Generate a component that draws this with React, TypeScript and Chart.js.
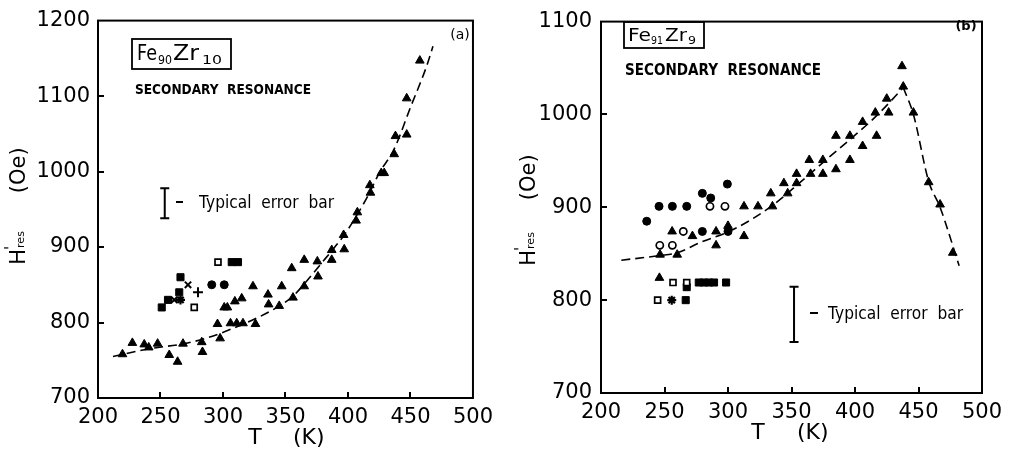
import React, { useEffect, useRef } from "react";
import { Chart, registerables } from "chart.js";

Chart.register(...registerables);

// ---------- shared tick values ----------
const xTickValues = [200, 250, 300, 350, 400, 450, 500];
const aYTickValues = [700, 800, 900, 1000, 1100, 1200];
const bYTickValues = [700, 800, 900, 1000, 1100];

// ---------- panel (a): Fe90Zr10 ----------
const aTriT = [219.6, 227.5, 237, 240.6, 247.7, 257, 263.7, 268, 283, 283.6, 295.6, 297.7, 301, 303.5, 306, 309.5, 311, 315, 316, 324, 326, 336, 336.5, 345, 347, 355, 356, 365, 365, 375.5, 376, 387, 387, 396.5, 397, 406.5, 407.5, 417.5, 418, 426.6, 429, 437, 438, 447, 447, 457.5];
const aTriH = [758, 773, 771, 767, 772, 757, 748, 772, 774, 761, 798, 779, 820, 820, 799, 828, 799, 832, 799, 848, 798, 837, 824, 822, 848, 872, 833, 883, 848, 881, 861, 896, 883, 916, 897, 935, 946, 982, 972, 998, 998, 1023, 1047, 1049, 1097, 1147];
const aSqFillT = [251, 256, 265, 266, 307, 312];
const aSqFillH = [820, 830, 840, 860, 880, 880];
const aSqOpenT = [277, 296];
const aSqOpenH = [820, 880];
const aCircFillT = [291, 301];
const aCircFillH = [850, 850];
const aCrossT = [261, 272];
const aCrossH = [830, 850];
const aPlusT = [280];
const aPlusH = [840];
const aStarT = [266];
const aStarH = [830];
const aCurveT = [212, 240, 269, 288, 319, 340, 356, 369, 380, 386, 397, 407, 416, 425, 437, 450, 463, 468];
const aCurveH = [755, 765, 772, 780, 800, 817, 835, 859, 881, 893, 916, 942, 968, 998, 1030, 1085, 1140, 1166];
const aErrorBar = [253.4, 938, 978]; // T, low, high

// ---------- panel (b): Fe91Zr9 ----------
const bTriT = [246, 246.5, 256, 260, 272, 290.6, 290.6, 300, 312.6, 312.6, 323.6, 333.7, 335, 344, 347, 354, 354, 364, 365, 374.7, 374.7, 385, 385, 396, 396, 406, 406, 416, 417, 425, 426.5, 437, 438, 446, 458, 467, 477];
const bTriH = [824, 849, 874, 849, 869, 874, 859, 880, 901, 869, 901, 915, 901, 926, 915, 936, 926, 951, 936, 951, 936, 977, 941, 977, 951, 992, 966, 1002, 977, 1017, 1002, 1052, 1030, 1002, 927, 903, 851];
const bCircFillT = [236, 245.7, 256.2, 267.5, 279.8, 286.4, 299.5, 279.8, 300];
const bCircFillH = [885, 901, 901, 901, 915, 910, 925, 874, 874];
const bCircOpenT = [285.8, 297.6, 264.8, 246.3, 256.2];
const bCircOpenH = [901, 901, 874, 859, 859];
const bSqOpenT = [256.7, 267.5, 244.6];
const bSqOpenH = [819, 819, 800];
const bSqFillT = [277, 281, 285, 289, 298.5, 267.5, 266.7];
const bSqFillH = [819, 819, 819, 819, 819, 814, 800];
const bStarT = [255.7];
const bStarH = [800];
const bCurveUpT = [216, 246, 260, 278, 304, 334, 357, 378, 396, 415, 430, 438];
const bCurveUpH = [843, 848, 851, 862, 876, 901, 927, 952, 973, 996, 1017, 1029];
const bCurveDownT = [438, 446, 458, 467, 482];
const bCurveDownH = [1029, 1000, 928, 900, 837];
const bErrorBar = [352, 755, 814.5];

// ---------- helpers ----------
const FONT = '"DejaVu Sans", sans-serif';
const pts = (t: number[], h: number[]) => t.map((x, i) => ({ x, y: h[i] }));

const tri = (t: number[], h: number[]) => ({ data: pts(t, h), pointStyle: "triangle", pointRadius: 5, backgroundColor: "#000", borderColor: "#000", borderWidth: 1, showLine: false });
const circF = (t: number[], h: number[]) => ({ data: pts(t, h), pointStyle: "circle", pointRadius: 4, backgroundColor: "#000", borderColor: "#000", borderWidth: 1, showLine: false });
const circO = (t: number[], h: number[]) => ({ data: pts(t, h), pointStyle: "circle", pointRadius: 3.6, backgroundColor: "#fff", borderColor: "#000", borderWidth: 1.7, showLine: false });
const sqF = (t: number[], h: number[]) => ({ data: pts(t, h), pointStyle: "rect", pointRadius: 5, backgroundColor: "#000", borderColor: "#000", borderWidth: 1, showLine: false });
const sqO = (t: number[], h: number[]) => ({ data: pts(t, h), pointStyle: "rect", pointRadius: 4.2, backgroundColor: "#fff", borderColor: "#000", borderWidth: 1.7, showLine: false });
const crossR = (t: number[], h: number[]) => ({ data: pts(t, h), pointStyle: "crossRot", pointRadius: 4.5, backgroundColor: "#000", borderColor: "#000", borderWidth: 2, showLine: false });
const plus = (t: number[], h: number[]) => ({ data: pts(t, h), pointStyle: "cross", pointRadius: 5, backgroundColor: "#000", borderColor: "#000", borderWidth: 2, showLine: false });
const star = (t: number[], h: number[]) => ({ data: pts(t, h), pointStyle: "star", pointRadius: 4.5, backgroundColor: "#000", borderColor: "#000", borderWidth: 2.2, showLine: false });
const curve = (t: number[], h: number[]) => ({ data: pts(t, h), showLine: true, borderDash: [9, 5], borderWidth: 1.6, borderColor: "#000", backgroundColor: "#000", pointRadius: 0, cubicInterpolationMode: "monotone", fill: false });

function fitText(ctx: CanvasRenderingContext2D, text: string, x: number, y: number, w: number, font: string) {
  ctx.save();
  ctx.font = font;
  ctx.textAlign = "left";
  ctx.textBaseline = "alphabetic";
  const m = ctx.measureText(text).width;
  ctx.translate(x, y);
  ctx.scale(w / m, 1);
  ctx.fillText(text, 0, 0);
  ctx.restore();
}

function drawYTitle(ctx: CanvasRenderingContext2D, cx: number, cy: number, gap: number) {
  ctx.save();
  ctx.translate(cx, cy);
  ctx.rotate(-Math.PI / 2);
  ctx.fillStyle = "#000";
  ctx.textAlign = "left";
  ctx.textBaseline = "alphabetic";
  const big = `21px ${FONT}`;
  const small = `11px ${FONT}`;
  ctx.font = big;
  const wH = ctx.measureText("H").width;
  const wOe = ctx.measureText("(Oe)").width;
  ctx.font = small;
  const wRes = ctx.measureText("res").width;
  const total = wH + 1 + wRes + gap + wOe;
  let x = -total / 2;
  const base = 8;
  ctx.font = big;
  ctx.fillText("H", x, base);
  ctx.font = `15px ${FONT}`;
  ctx.fillText("'", x + wH - 1, base - 9);
  ctx.font = small;
  ctx.fillText("res", x + wH + 1, base - 1);
  x += wH + 1 + wRes + gap;
  ctx.font = big;
  ctx.fillText("(Oe)", x, base);
  ctx.restore();
}

function drawErrorBar(ctx: CanvasRenderingContext2D, chart: any, eb: number[], cap: number) {
  const xs = chart.scales.x, ys = chart.scales.y;
  const px = xs.getPixelForValue(eb[0]);
  const y1 = ys.getPixelForValue(eb[1]);
  const y2 = ys.getPixelForValue(eb[2]);
  ctx.save();
  ctx.strokeStyle = "#000";
  ctx.lineWidth = 2;
  ctx.beginPath();
  ctx.moveTo(px, y1); ctx.lineTo(px, y2);
  ctx.moveTo(px - cap / 2, y1); ctx.lineTo(px + cap / 2, y1);
  ctx.moveTo(px - cap / 2, y2); ctx.lineTo(px + cap / 2, y2);
  ctx.stroke();
  ctx.restore();
}

function drawDash(ctx: CanvasRenderingContext2D, x1: number, x2: number, y: number) {
  ctx.save();
  ctx.strokeStyle = "#000";
  ctx.lineWidth = 2;
  ctx.beginPath();
  ctx.moveTo(x1, y); ctx.lineTo(x2, y);
  ctx.stroke();
  ctx.restore();
}

function drawFrame(ctx: CanvasRenderingContext2D, chart: any, yTicks: number[]) {
  const { left, right, top, bottom } = chart.chartArea;
  const xs = chart.scales.x, ys = chart.scales.y;
  ctx.save();
  ctx.strokeStyle = "#000";
  ctx.lineWidth = 2;
  ctx.strokeRect(left, top, right - left, bottom - top);
  ctx.beginPath();
  xTickValues.slice(1, -1).forEach((v) => {
    const p = Math.round(xs.getPixelForValue(v));
    ctx.moveTo(p, bottom); ctx.lineTo(p, bottom - 6);
  });
  yTicks.slice(1, -1).forEach((v) => {
    const p = Math.round(ys.getPixelForValue(v));
    ctx.moveTo(left, p); ctx.lineTo(left + 6, p);
  });
  ctx.stroke();
  ctx.restore();
}

function drawXTitle(ctx: CanvasRenderingContext2D, tx: number, kx: number, y: number) {
  ctx.save();
  ctx.fillStyle = "#000";
  ctx.font = `22px ${FONT}`;
  ctx.textBaseline = "middle";
  ctx.textAlign = "center";
  ctx.fillText("T", tx, y);
  ctx.textAlign = "left";
  ctx.fillText("(K)", kx, y);
  ctx.restore();
}

function overlayA(chart: any) {
  const ctx: CanvasRenderingContext2D = chart.ctx;
  drawFrame(ctx, chart, aYTickValues);
  ctx.save();
  ctx.fillStyle = "#000";
  ctx.strokeStyle = "#000";
  // alloy label box
  ctx.lineWidth = 1.8;
  ctx.strokeRect(132, 39, 99, 30);
  fitText(ctx, "Fe", 137, 60, 20, `21px ${FONT}`);
  fitText(ctx, "90", 158, 64, 14, `13px ${FONT}`);
  fitText(ctx, "Zr", 173, 60, 26, `21px ${FONT}`);
  fitText(ctx, "10", 202, 64, 20, `13px ${FONT}`);
  fitText(ctx, "SECONDARY  RESONANCE", 135, 94, 176, `bold 14px ${FONT}`);
  ctx.font = `14px ${FONT}`;
  ctx.textAlign = "center";
  ctx.textBaseline = "middle";
  ctx.fillText("(a)", 460, 35);
  drawErrorBar(ctx, chart, aErrorBar, 9);
  drawDash(ctx, 176, 183, 202);
  fitText(ctx, "Typical  error  bar", 199, 208, 135, `17px ${FONT}`);
  drawXTitle(ctx, 255, 293, 438);
  drawYTitle(ctx, 17, 206, 38);
  ctx.restore();
}

function overlayB(chart: any) {
  const ctx: CanvasRenderingContext2D = chart.ctx;
  drawFrame(ctx, chart, bYTickValues);
  ctx.save();
  ctx.fillStyle = "#000";
  ctx.strokeStyle = "#000";
  ctx.lineWidth = 1.8;
  ctx.strokeRect(124, 22, 80, 26);
  fitText(ctx, "Fe", 128, 41, 23, `18px ${FONT}`);
  fitText(ctx, "91", 151, 44, 12, `10px ${FONT}`);
  fitText(ctx, "Zr", 165, 41, 22, `18px ${FONT}`);
  fitText(ctx, "9", 188, 44, 8, `10px ${FONT}`);
  fitText(ctx, "SECONDARY  RESONANCE", 125, 75, 196, `bold 15px ${FONT}`);
  ctx.font = `bold 13px ${FONT}`;
  ctx.textAlign = "center";
  ctx.textBaseline = "middle";
  ctx.fillText("(b)", 466, 27);
  drawErrorBar(ctx, chart, bErrorBar, 9);
  drawDash(ctx, 310, 318, 313);
  fitText(ctx, "Typical  error  bar", 328, 319, 135, `18px ${FONT}`);
  drawXTitle(ctx, 258, 297, 433);
  drawYTitle(ctx, 27, 210, 32);
  ctx.restore();
}

type PanelCfg = {
  width: number;
  area: { left: number; right: number; top: number; bottom: number };
  yMin: number;
  yMax: number;
  yTicks: number[];
  yPad: number;
  datasets: any[];
  overlay: (chart: any) => void;
};

const panelA: PanelCfg = {
  width: 500,
  area: { left: 98, right: 480, top: 16, bottom: 398 },
  yMin: 700,
  yMax: 1200,
  yTicks: aYTickValues,
  yPad: 8,
  datasets: [
    curve(aCurveT, aCurveH),
    tri(aTriT, aTriH),
    sqF(aSqFillT, aSqFillH),
    sqO(aSqOpenT, aSqOpenH),
    circF(aCircFillT, aCircFillH),
    crossR(aCrossT, aCrossH),
    plus(aPlusT, aPlusH),
    star(aStarT, aStarH),
  ],
  overlay: overlayA,
};

const panelB: PanelCfg = {
  width: 512,
  area: { left: 101, right: 482, top: 15, bottom: 393 },
  yMin: 700,
  yMax: 1100,
  yTicks: bYTickValues,
  yPad: 9,
  datasets: [
    curve(bCurveUpT, bCurveUpH),
    curve(bCurveDownT, bCurveDownH),
    tri(bTriT, bTriH),
    circF(bCircFillT, bCircFillH),
    circO(bCircOpenT, bCircOpenH),
    sqO(bSqOpenT, bSqOpenH),
    sqF(bSqFillT, bSqFillH),
    star(bStarT, bStarH),
  ],
  overlay: overlayB,
};

const HEIGHT = 452;

function buildChart(canvas: HTMLCanvasElement, cfg: PanelCfg) {
  const tickFont = { family: FONT, size: 21 };
  return new Chart(canvas, {
    type: "scatter",
    data: { datasets: cfg.datasets },
    options: {
      responsive: false,
      maintainAspectRatio: false,
      animation: false,
      events: [],
      layout: { padding: { top: cfg.area.top, right: cfg.width - cfg.area.right, left: 0, bottom: 0 } },
      plugins: { legend: { display: false }, tooltip: { enabled: false }, title: { display: false } },
      scales: {
        x: {
          type: "linear",
          min: 200,
          max: 500,
          afterBuildTicks: (s: any) => { s.ticks = xTickValues.map((v) => ({ value: v })); },
          afterFit: (s: any) => { s.height = HEIGHT - cfg.area.bottom; },
          grid: { display: false, drawTicks: false },
          border: { display: false },
          ticks: { font: tickFont, color: "#000", padding: 7, maxRotation: 0, autoSkip: false, callback: (v: any) => String(v) },
        },
        y: {
          type: "linear",
          min: cfg.yMin,
          max: cfg.yMax,
          afterBuildTicks: (s: any) => { s.ticks = cfg.yTicks.map((v) => ({ value: v })); },
          afterFit: (s: any) => { s.width = cfg.area.left; },
          grid: { display: false, drawTicks: false },
          border: { display: false },
          ticks: { font: tickFont, color: "#000", padding: cfg.yPad, autoSkip: false, callback: (v: any) => String(v) },
        },
      },
    } as any,
    plugins: [{ id: "overlay", afterDraw: (chart: any) => cfg.overlay(chart) }],
  } as any);
}

export default function App() {
  const refA = useRef<HTMLCanvasElement>(null);
  const refB = useRef<HTMLCanvasElement>(null);
  useEffect(() => {
    const a = buildChart(refA.current as HTMLCanvasElement, panelA);
    const b = buildChart(refB.current as HTMLCanvasElement, panelB);
    return () => { a.destroy(); b.destroy(); };
  }, []);
  return (
    <div style={{ position: "fixed", left: 0, top: 0, width: 1012, height: 452, background: "#fff", overflow: "hidden" }}>
      <canvas ref={refA} width={500} height={452} style={{ position: "absolute", left: 0, top: 0, width: 500, height: 452 }} />
      <canvas ref={refB} width={512} height={452} style={{ position: "absolute", left: 500, top: 0, width: 512, height: 452 }} />
    </div>
  );
}
